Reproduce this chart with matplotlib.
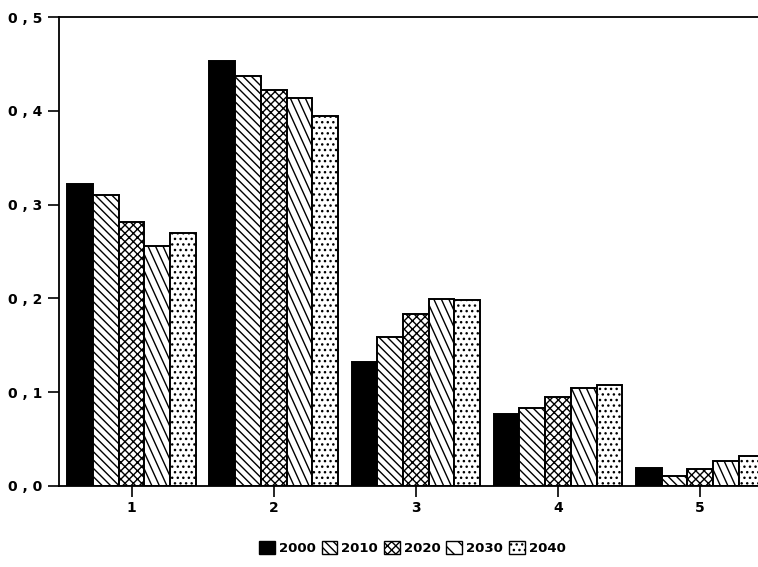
import numpy as np
import matplotlib.pyplot as plt
from matplotlib.patches import Patch

plt.rcParams['font.family'] = ['DejaVu Sans']
plt.rcParams['hatch.linewidth'] = 1.0

groups = ['1', '2', '3', '4', '5']
years = ['2000', '2010', '2020', '2030', '2040']
v2000 = [0.322, 0.453, 0.132, 0.077, 0.019]
v2010 = [0.310, 0.437, 0.159, 0.083, 0.011]
v2020 = [0.281, 0.422, 0.183, 0.095, 0.018]
v2030 = [0.256, 0.414, 0.199, 0.104, 0.027]
v2040 = [0.270, 0.394, 0.198, 0.108, 0.032]
series = [v2000, v2010, v2020, v2030, v2040]

# fill and hatch for each year (2030 gets steep lines drawn by hand below)
styles = [('black', ''), ('white', '\\\\\\\\'), ('white', 'xxxx'),
          ('white', ''), ('white', '...')]

fig = plt.figure(figsize=(7.58, 5.67), dpi=100)
ax = fig.add_axes([0.078, 0.143, 0.93, 0.827])

x = np.arange(1, len(groups) + 1)
w = 0.181
xmin, xmax = 0.49, 5.45
ymax = 0.5
ax.set_xlim(xmin, xmax)
ax.set_ylim(0, ymax)

bars = []
for i, (vals, (fc, h)) in enumerate(zip(series, styles)):
    bc = ax.bar(x + (i - 2) * w, vals, width=w, color=fc, hatch=h,
                edgecolor='black', linewidth=1.4, zorder=2)
    bars.append(bc)

# steep hatch for 2030, clipped to each bar
px_x = 0.93 * 758 / (xmax - xmin)   # pixels per x unit
px_y = 0.827 * 567 / ymax           # pixels per y unit
slope = 2.2
step = 7.5
for rect in bars[3]:
    x0, hgt, wd = rect.get_x(), rect.get_height(), rect.get_width()
    hp = hgt * px_y
    wp = wd * px_x
    for s in np.arange(-hp / slope, wp + step, step):
        xs = np.array([s, s + hp / slope]) / px_x + x0
        ys = np.array([hgt, 0.0])
        ln, = ax.plot(xs, ys, color='black', lw=1.0, zorder=2.5)
        ln.set_clip_path(rect)

ax.set_yticks([0, 0.1, 0.2, 0.3, 0.4, 0.5])
ax.set_yticklabels(['0 , 0', '0 , 1', '0 , 2', '0 , 3', '0 , 4', '0 , 5'],
                   fontweight='bold', fontsize=10)
ax.set_xticks(x)
ax.set_xticklabels(groups, fontweight='bold', fontsize=10)
ax.tick_params(axis='both', direction='out', length=8, width=1.2)
ax.tick_params(axis='y', pad=4)
ax.tick_params(axis='x', pad=3)
ax.spines['right'].set_visible(False)
for s in ['left', 'top', 'bottom']:
    ax.spines[s].set_linewidth(1.3)

handles = [Patch(facecolor=fc, hatch=(h if k != 3 else '\\\\'),
                 edgecolor='black', linewidth=1.0)
           for k, (fc, h) in enumerate(styles)]
fig.legend(handles, years, loc='center', bbox_to_anchor=(0.544, 0.034),
           ncol=5, frameon=False, handlelength=1.2, handleheight=1.2,
           handletextpad=0.3, columnspacing=0.45,
           prop={'weight': 'bold', 'size': 9.5})

fig.savefig('out.png', dpi=100)
